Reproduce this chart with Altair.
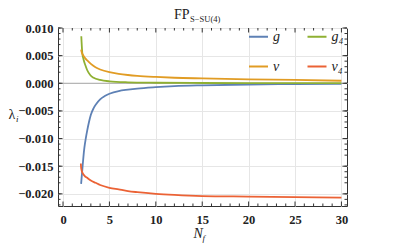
import altair as alt
import pandas as pd

# ---- data ----
g_nf = [1.95, 2.0, 2.1, 2.2, 2.3, 2.45, 2.6, 2.8, 3.0, 3.3, 3.6, 4.0, 4.5, 5.0, 6.0, 7.0, 8.0, 10.0, 12.0, 15.0, 20.0, 25.0, 30.0]
g_val = [-0.0182, -0.0172, -0.0152, -0.0133, -0.0117, -0.0100, -0.0086, -0.0070, -0.0057, -0.0045, -0.0037, -0.0029, -0.0023, -0.0019, -0.0014, -0.00115, -0.00095, -0.0007, -0.00052, -0.00037, -0.00022, -0.00014, -0.0001]

g4_nf = [1.97, 2.0, 2.08, 2.2, 2.4, 2.6, 2.95, 3.3, 4.0, 5.0, 7.0, 10.0, 15.0, 20.0, 30.0]
g4_val = [0.0085, 0.0075, 0.0054, 0.0044, 0.0033, 0.0024, 0.00145, 0.0010, 0.0006, 0.00035, 0.00018, 0.0001, 0.00005, 0.00003, 0.00001]

v_nf = [1.95, 2.0, 2.2, 2.4, 2.7, 3.0, 3.5, 4.0, 5.0, 6.0, 7.0, 8.0, 10.0, 12.0, 15.0, 20.0, 25.0, 30.0]
v_val = [0.0061, 0.0057, 0.0050, 0.0045, 0.0040, 0.0035, 0.0029, 0.0025, 0.0020, 0.0017, 0.0015, 0.00135, 0.00115, 0.0010, 0.00088, 0.00072, 0.0006, 0.00046]

v4_nf = [1.92, 1.95, 2.0, 2.1, 2.3, 2.6, 3.0, 3.5, 4.0, 5.0, 6.0, 7.0, 8.0, 10.0, 12.0, 15.0, 20.0, 25.0, 30.0]
v4_val = [-0.0145, -0.0152, -0.0157, -0.0162, -0.0167, -0.0171, -0.0176, -0.0180, -0.0184, -0.0189, -0.0192, -0.0195, -0.0197, -0.0200, -0.0202, -0.0204, -0.0205, -0.0206, -0.0207]

# legend fills column-wise: column 1 = g, v ; column 2 = g4, v4
series_names = ["g", "v", "g\u2084", "v\u2084"]
series_colors = ["#5E81B5", "#E19C24", "#8FB032", "#EB6235"]

x_major = [0, 5, 10, 15, 20, 25, 30]
x_minor = [i for i in range(0, 31) if i % 5 != 0]
y_major = [-0.020, -0.015, -0.010, -0.005, 0.000, 0.005, 0.010]
y_minor = [round(-0.022 + 0.001 * i, 3) for i in range(0, 33) if (i + 2) % 5 != 0]

title_main = "FP"
title_sub = "S\u2212SU(4)"
x_title = "N"
x_title_sub = "f"
y_title = "\u03bb"
y_title_sub = "i"

# ---- layout ----
W, H = 289, 178
SERIF = "Liberation Serif"

rows = []
for name, xs_, ys_ in [("g", g_nf, g_val), ("g\u2084", g4_nf, g4_val), ("v", v_nf, v_val), ("v\u2084", v4_nf, v4_val)]:
    for a, b in zip(xs_, ys_):
        rows.append({"Nf": a, "lam": b, "series": name})
df = pd.DataFrame(rows)

xs = alt.Scale(domain=[-0.54, 30.6], nice=False, zero=False)
ys = alt.Scale(domain=[-0.0222, 0.0100], nice=False, zero=False)

x_axis = alt.Axis(values=x_major, format="d", title=None, tickSize=0, domain=False,
                  labelFont=SERIF, labelFontWeight="bold", labelFontSize=12.5, labelColor="#222",
                  labelPadding=7, grid=True, gridColor="#e6e6e6", gridWidth=1)
y_axis = alt.Axis(values=y_major, format=".3f", title=None, tickSize=0, domain=False,
                  labelFont=SERIF, labelFontWeight="bold", labelFontSize=12.5, labelColor="#222",
                  labelPadding=5, grid=True, gridColor="#e6e6e6", gridWidth=1)

def X(f):
    return alt.X(f, scale=xs, axis=x_axis)

def Y(f):
    return alt.Y(f, scale=ys, axis=y_axis)

zero_line = alt.Chart(pd.DataFrame({"z": [0.0]})).mark_rule(color="#a8a8a8", strokeWidth=1).encode(
    y=Y("z:Q")
)

lines = alt.Chart(df).mark_line(strokeWidth=1.8, interpolate="monotone").encode(
    x=X("Nf:Q"),
    y=Y("lam:Q"),
    color=alt.Color("series:N", scale=alt.Scale(domain=series_names, range=series_colors),
                    sort=series_names,
                    legend=alt.Legend(orient="none", legendX=190, legendY=-2, columns=2, title=None,
                                      symbolType="stroke", symbolSize=361, symbolStrokeWidth=2,
                                      labelFont=SERIF, labelFontStyle="italic", labelFontSize=14,
                                      labelColor="#222", labelOffset=4, columnPadding=23.5,
                                      rowPadding=12, padding=0)),
    detail="series:N",
)

tick_color = "#333"
xmaj = pd.DataFrame({"t": x_major})
xmin = pd.DataFrame({"t": x_minor})
ymaj = pd.DataFrame({"t": y_major})
ymin = pd.DataFrame({"t": y_minor})

def xticks(d, L):
    bot = alt.Chart(d).mark_rule(color=tick_color, strokeWidth=1).encode(
        x=X("t:Q"), y=alt.value(H), y2=alt.value(H - L))
    top = alt.Chart(d).mark_rule(color=tick_color, strokeWidth=1).encode(
        x=X("t:Q"), y=alt.value(0), y2=alt.value(L))
    return [bot, top]

def yticks(d, L):
    left = alt.Chart(d).mark_rule(color=tick_color, strokeWidth=1).encode(
        y=Y("t:Q"), x=alt.value(0), x2=alt.value(L))
    right = alt.Chart(d).mark_rule(color=tick_color, strokeWidth=1).encode(
        y=Y("t:Q"), x=alt.value(W), x2=alt.value(W - L))
    return [left, right]

ticks = xticks(xmaj, 4.5) + xticks(xmin, 2.5) + yticks(ymaj, 4.5) + yticks(ymin, 2.5)

def label(text, x, y, size, align="left", style="normal", weight="normal"):
    return alt.Chart(pd.DataFrame({"s": [text]})).mark_text(
        font=SERIF, fontSize=size, align=align, baseline="alphabetic",
        fontStyle=style, fontWeight=weight, color="#222"
    ).encode(text="s:N", x=alt.value(x), y=alt.value(y))

texts = [
    label(title_main, 131.5, -9, 14, align="right"),
    label(title_sub, 132, -6, 8.5),
    label(x_title, 135.5, 210, 14, style="italic"),
    label(x_title_sub, 144.5, 212.5, 9, style="italic"),
    label(y_title, -49.5, 91, 14),
    label(y_title_sub, -42, 93.5, 9, style="italic"),
]

chart = alt.layer(zero_line, *ticks, lines, *texts).properties(
    width=W, height=H,
    padding={"left": 50, "top": 20, "right": 52, "bottom": 37},
    autosize=alt.AutoSizeParams(type="none"),
).configure_view(stroke="#333", strokeWidth=1)

chart.save("out.html", embed_options={"renderer": "svg", "actions": False})
